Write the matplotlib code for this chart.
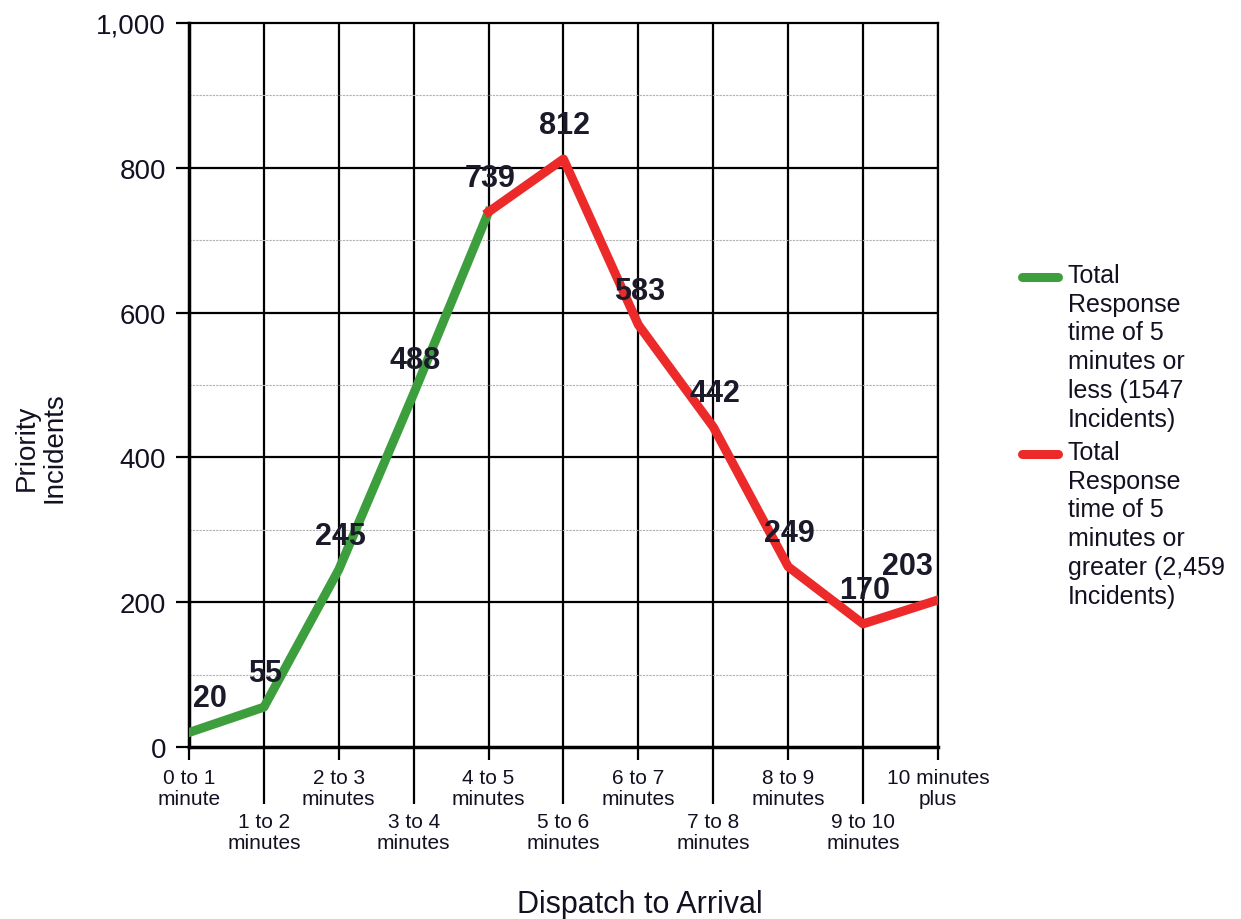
import numpy as np
import matplotlib
matplotlib.use('Agg')
import matplotlib.pyplot as plt
from matplotlib.lines import Line2D

plt.rcParams['font.family'] = ['Liberation Sans', 'DejaVu Sans']

# Data.
categories = ['0 to 1\nminute', '1 to 2\nminutes', '2 to 3\nminutes', '3 to 4\nminutes',
              '4 to 5\nminutes', '5 to 6\nminutes', '6 to 7\nminutes', '7 to 8\nminutes',
              '8 to 9\nminutes', '9 to 10\nminutes', '10 minutes\nplus']
incidents = [20, 55, 245, 488, 739, 812, 583, 442, 249, 170, 203]
splitIdx = 4  # last point of the "5 minutes or less" series
legendLabels = ['Total\nResponse\ntime of 5\nminutes or\nless (1547\nIncidents)',
                'Total\nResponse\ntime of 5\nminutes or\ngreater (2,459\nIncidents)']
green = '#3d9e3d'
red = '#ec2a2a'
txtColor = '#111122'

x = np.arange(len(incidents))
y = np.array(incidents)

fig = plt.figure(figsize=(12.41, 9.2), dpi=100)
ax = fig.add_axes([0.1523, 0.187, 0.6035, 0.787])

# Grid.
for xi in x:
    ax.axvline(xi, color='black', lw=1.6, zorder=1)
for yi in range(200, 1000, 200):
    ax.axhline(yi, color='black', lw=1.6, zorder=1)
for yi in range(100, 1000, 200):
    ax.axhline(yi, color='#b0b0b0', lw=0.8, ls=(0, (2, 1)), zorder=1)

# Lines.
ax.plot(x[:splitIdx+1], y[:splitIdx+1], color=green, lw=6.5, solid_joinstyle='round', zorder=3)
ax.plot(x[splitIdx:], y[splitIdx:], color=red, lw=6.5, solid_joinstyle='round', zorder=3)

# Value labels.
for i, v in enumerate(incidents):
    dx = 1
    if i == 0: dx = 15
    if i == len(incidents)-1: dx = -22
    ax.annotate(str(v), (x[i], v), xytext=(dx, 24.5), textcoords='offset points',
                ha='center', va='center', fontsize=22, fontweight='bold', color='#1a1a2a', zorder=4)

ax.set_xlim(0, len(incidents)-1)
ax.set_ylim(0, 1000)
ax.set_yticks(range(0, 1001, 200))
ax.set_yticklabels(['0', '200', '400', '600', '800', '1,000'], fontsize=20, color=txtColor)
ax.tick_params(axis='y', length=9.5, width=1.6, pad=7)

# Alternate x tick labels in two rows.
ax.set_xticks(x[::2])
ax.set_xticklabels(categories[::2], fontsize=15, color=txtColor, linespacing=1.1)
ax.set_xticks(x[1::2], minor=True)
ax.set_xticklabels(categories[1::2], minor=True, fontsize=15, color=txtColor, linespacing=1.1)
ax.tick_params(axis='x', which='major', length=9.5, width=1.6, pad=6)
ax.tick_params(axis='x', which='minor', length=41, width=1.6, pad=6)

for s in ax.spines.values():
    s.set_linewidth(1.6)
ax.spines['left'].set_linewidth(2.5)
ax.spines['bottom'].set_linewidth(2.5)

ax.set_xlabel('Dispatch to Arrival', fontsize=22, color=txtColor)
ax.xaxis.set_label_coords(0.602, -0.196)
ax.set_ylabel('Priority\nIncidents', fontsize=20, color=txtColor, linespacing=1.1)
ax.yaxis.set_label_coords(-0.162, 0.415)

# Legend drawn by hand so the swatch sits at the first text line.
for lab, col, ytop in zip(legendLabels, [green, red], [1-278/920, 1-455/920]):
    fig.add_artist(Line2D([1022/1241, 1058/1241], [ytop, ytop], color=col, lw=6.5,
                          solid_capstyle='round', transform=fig.transFigure))
    fig.text(1068/1241, ytop + 14/920, lab, fontsize=18, color=txtColor, va='top', ha='left',
             linespacing=1.25)

fig.savefig('out.png', dpi=100)
